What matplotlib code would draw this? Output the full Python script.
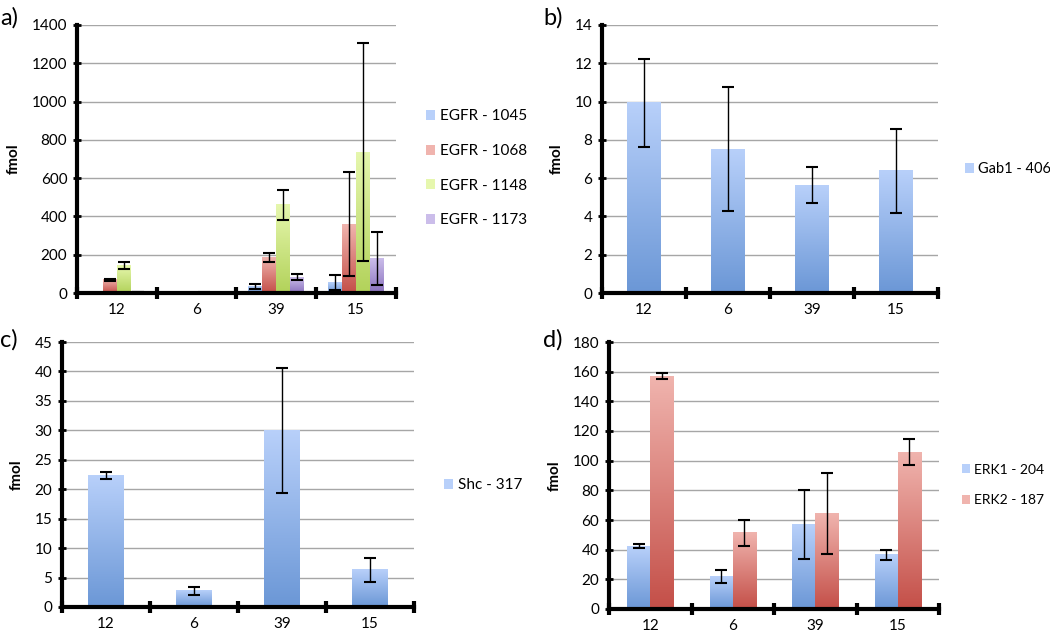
import numpy as np
import matplotlib
matplotlib.use("Agg")
import matplotlib.pyplot as plt
from matplotlib.colors import LinearSegmentedColormap

plt.rcParams['font.family'] = ['Lato', 'DejaVu Sans']

groups = ["12", "6", "39", "15"]

# Panel a
egfr_names = ["EGFR - 1045", "EGFR - 1068", "EGFR - 1148", "EGFR - 1173"]
egfr_1045 = [0, 0, 33, 54]
egfr_1045_err = [0, 0, 12, 40]
egfr_1068 = [70, 0, 185, 360]
egfr_1068_err = [5, 0, 24, 270]
egfr_1148 = [142, 3, 460, 735]
egfr_1148_err = [18, 1, 80, 570]
egfr_1173 = [5, 0, 82, 180]
egfr_1173_err = [2, 0, 15, 140]

# Panel b
gab1_name = "Gab1 - 406"
gab1 = [9.93, 7.5, 5.63, 6.38]
gab1_err = [2.3, 3.24, 0.95, 2.2]

# Panel c
shc_name = "Shc - 317"
shc = [22.4, 2.75, 30.0, 6.3]
shc_err = [0.6, 0.7, 10.6, 2.1]

# Panel d
erk_names = ["ERK1 - 204", "ERK2 - 187"]
erk1 = [42.3, 22.0, 57.0, 36.5]
erk1_err = [1.2, 4.3, 23.0, 3.4]
erk2 = [157.0, 51.5, 64.5, 105.8]
erk2_err = [2.0, 8.8, 27.5, 9.0]

grad = {
    "blue": ("#6b97d6", "#b8d0fa"),
    "red": ("#c44f48", "#f0b4ae"),
    "green": ("#b2d25a", "#e6f7ae"),
    "purple": ("#8a72be", "#cbbdea"),
}

W, H = 1050, 633
fig = plt.figure(figsize=(W / 100, H / 100), dpi=100)


def px_axes(x0, y0, x1, y1):
    return fig.add_axes([x0 / W, 1 - y1 / H, (x1 - x0) / W, (y1 - y0) / H])


def style_axes(ax, ymax, ystep):
    ax.set_xlim(-0.5, len(groups) - 0.5)
    ax.set_ylim(0, ymax)
    ax.set_yticks(np.arange(0, ymax + ystep / 2, ystep))
    ax.yaxis.grid(True, color="#a6a6a6", linewidth=1.0)
    ax.set_axisbelow(True)
    for s in ["top", "right"]:
        ax.spines[s].set_visible(False)
    for s in ["left", "bottom"]:
        ax.spines[s].set_linewidth(3)
        ax.spines[s].set_color("black")
    ax.set_xticks(np.arange(-0.5, len(groups), 1.0))
    ax.set_xticklabels([])
    ax.set_xticks(np.arange(len(groups)), minor=True)
    ax.set_xticklabels(groups, minor=True, fontsize=11)
    ax.tick_params(axis="x", which="major", direction="inout", length=8, width=3)
    ax.tick_params(axis="x", which="minor", length=0, pad=7)
    ax.tick_params(axis="y", direction="inout", length=6, width=2, labelsize=11, pad=4)
    ax.set_ylabel("fmol", fontsize=11, fontweight="bold", labelpad=8)


def grad_bars(ax, x, vals, errs, width, color, label):
    bars = ax.bar(x, vals, width, color=grad[color][1], label=label,
                  edgecolor="none", zorder=2)
    cmap = LinearSegmentedColormap.from_list("g", [grad[color][0], grad[color][1]])
    g = np.linspace(0, 1, 128).reshape(-1, 1)
    for b in bars:
        h = b.get_height()
        if h <= 0:
            continue
        ax.imshow(g, extent=[b.get_x(), b.get_x() + b.get_width(), 0, h],
                  origin="lower", aspect="auto", cmap=cmap, zorder=2.1)
    ax.errorbar(x, vals, yerr=errs, fmt="none", ecolor="black", elinewidth=1.0,
                capsize=4, capthick=1.5, zorder=3)
    return bars


def legend(ax, x, y, fs=11):
    ax.legend(loc="center left", bbox_to_anchor=(x, y), frameon=False,
              fontsize=fs, handlelength=0.6, handleheight=0.6,
              handletextpad=0.3, labelspacing=1.35, borderpad=0.2)


xs = np.arange(len(groups))

# a)
axa = px_axes(77, 25, 396, 293)
w = 0.175
series_a = [(egfr_1045, egfr_1045_err, "blue"), (egfr_1068, egfr_1068_err, "red"),
            (egfr_1148, egfr_1148_err, "green"), (egfr_1173, egfr_1173_err, "purple")]
for i, (v, e, c) in enumerate(series_a):
    grad_bars(axa, xs + (i - 1.5) * w, v, e, w, c, egfr_names[i])
style_axes(axa, 1400, 200)
legend(axa, 1.06, 0.465)

# b)
axb = px_axes(602, 25, 938, 293)
grad_bars(axb, xs, gab1, gab1_err, 0.4, "blue", gab1_name)
style_axes(axb, 14, 2)
legend(axb, 1.05, 0.462, fs=10.5)

# c)
axc = px_axes(62, 342, 414, 607)
grad_bars(axc, xs, shc, shc_err, 0.4, "blue", shc_name)
style_axes(axc, 45, 5)
legend(axc, 1.055, 0.46)

# d)
axd = px_axes(609, 342, 939, 609)
wd = 0.28
grad_bars(axd, xs - wd / 2, erk1, erk1_err, wd, "blue", erk_names[0])
grad_bars(axd, xs + wd / 2, erk2, erk2_err, wd, "red", erk_names[1])
style_axes(axd, 180, 20)
legend(axd, 1.04, 0.464, fs=10)

for lab, (x, y) in zip(["a)", "b)", "c)", "d)"],
                       [(0, 18), (543, 18), (0, 340), (543, 340)]):
    fig.text(x / W, 1 - y / H, lab, fontsize=17, va="center", ha="left")

fig.savefig("out.png", dpi=100)
